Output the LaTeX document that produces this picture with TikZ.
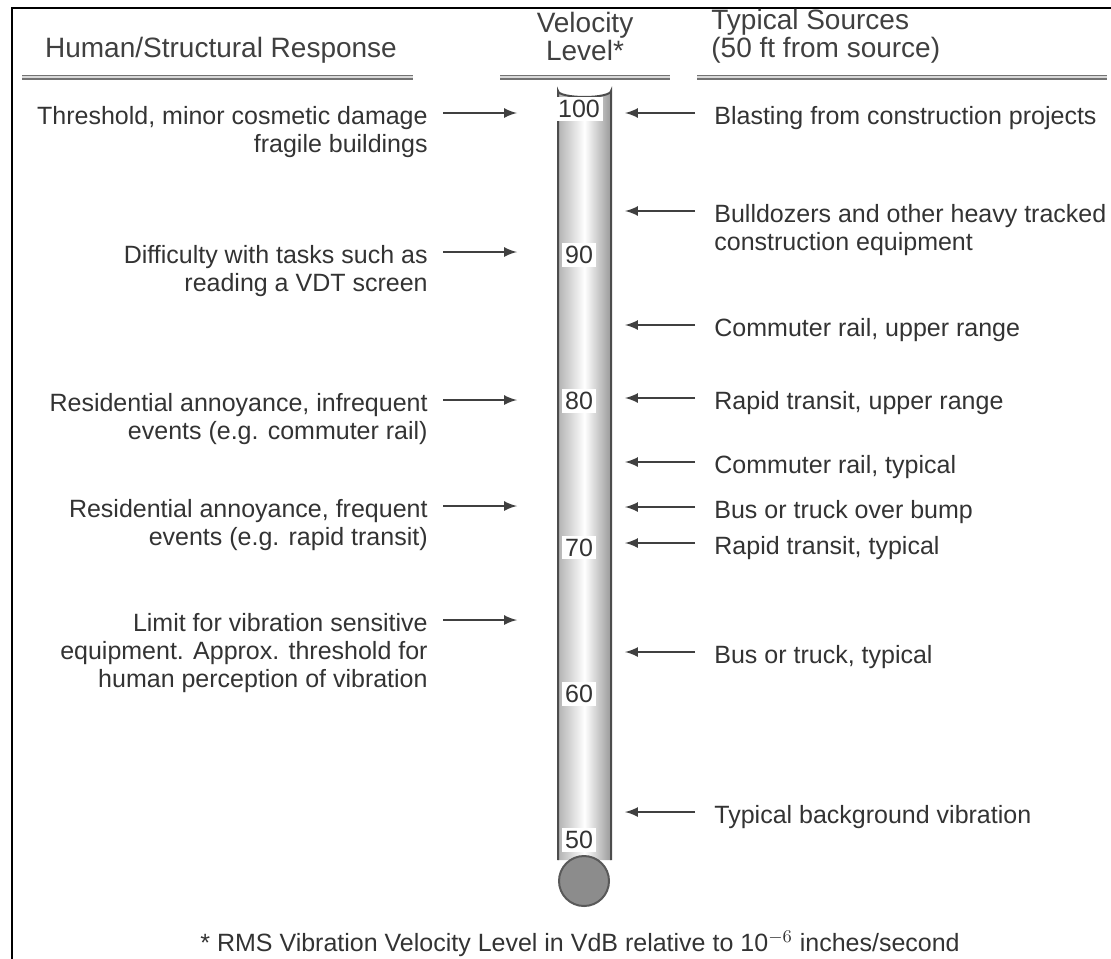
\documentclass[tikz,border=0pt]{standalone}
\usepackage{fontspec}
\setmainfont{Liberation Sans}
\usetikzlibrary{calc,positioning,shapes,arrows}

\begin{document}
\begin{tikzpicture}[x=0.5pt,y=-0.5pt,inner sep=0pt,
  txt/.style={font=\fontsize{12.5}{14}\selectfont,text=black!80},
  resp/.style={txt,anchor=north east,align=right},
  src/.style={txt,anchor=north west,align=left},
  hdr/.style={font=\fontsize{14}{14}\selectfont,text=black!75},
  hline/.style={draw=black!55,line width=0.8pt,double=black!15,double distance=0.9pt},
  ptr/.style={-latex,line width=1.2pt,draw=black!75},
  val/.style={txt,fill=white,inner sep=1.5pt}]
\useasboundingbox (0,0) rectangle (1111,958);
\draw[line width=1pt] (12,8) rectangle (1140,990);

% column heads
\node[hdr] (hresp) at (221,50) {Human/Structural Response};
\node[hdr,align=center] (hvel) at (585,36) {Velocity\\Level*};
\node[hdr,align=left,anchor=west] (hsrc) at (711,36) {Typical Sources\\(50 ft from source)};
\draw[hline] (22,77) -- (413,77);
\draw[hline] (500,77) -- (670,77);
\draw[hline] (697,77) -- (1107,77);

% thermometer
\shade[left color=black!30,right color=black!40,middle color=white] (558,860) -- (558,91) arc (180:0:26.5 and 6) -- (611,860) -- cycle;
\draw[black!70,line width=1pt] (558,860) -- (558,91) arc (180:0:26.5 and 6) -- (611,860);
\filldraw[fill=black!45,draw=black!65,line width=1pt] (584,881) circle (25);
\foreach \v in {50,60,...,100}
  \node[val] (v\v) at (579,{255+(90-\v)*14.63}) {\v};

% human / structural response
\node[resp] (thr) at (428,106) {Threshold, minor cosmetic damage\\fragile buildings};
\node[resp] (vdt) at (428,245) {Difficulty with tasks such as\\reading a VDT screen};
\node[resp] (infr) at (428,393) {Residential annoyance, infrequent\\events (e.g. commuter rail)};
\node[resp] (freq) at (428,499) {Residential annoyance, frequent\\events (e.g. rapid transit)};
\node[resp] (lim) at (428,613) {Limit for vibration sensitive\\equipment.  Approx. threshold for\\human perception of vibration};

% typical sources
\node[src] (blast) at (714,106) {Blasting from construction projects};
\node[src] (dozer) at (714,204) {Bulldozers and other heavy tracked\\construction equipment};
\node[src] (crup) at (714,318) {Commuter rail, upper range};
\node[src] (rtup) at (714,391) {Rapid transit, upper range};
\node[src] (crtyp) at (714,455) {Commuter rail, typical};
\node[src] (bump) at (714,500) {Bus or truck over bump};
\node[src] (rttyp) at (714,536) {Rapid transit, typical};
\node[src] (bus) at (714,645) {Bus or truck, typical};
\node[src] (bg) at (714,805) {Typical background vibration};

\foreach \n in {thr,vdt,infr,freq,lim}
  \draw[ptr] ([shift={(15,7)}]\n.north east) -- ++(74,0);
\foreach \n in {blast,dozer,crup,rtup,crtyp,bump,rttyp,bus,bg}
  \draw[ptr] ([shift={(-19,7)}]\n.north west) -- ++(-70,0);

\node[txt] (note) at (580,944) {* RMS Vibration Velocity Level in VdB relative to 10$^{-6}$ inches/second};
\end{tikzpicture}
\end{document}
